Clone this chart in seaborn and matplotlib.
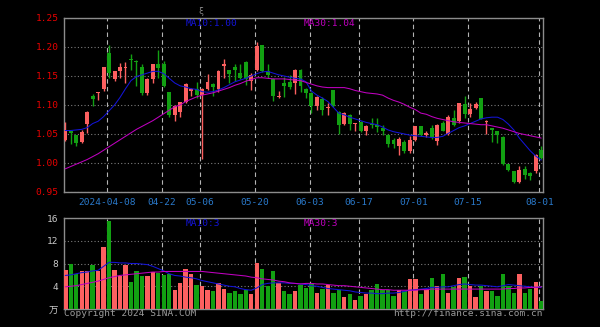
import numpy as np
import pandas as pd
import matplotlib
matplotlib.use("Agg")
import matplotlib.pyplot as plt
import seaborn as sns

# ---------------- data ----------------
open_ = [1.039, 1.055, 1.048, 1.036, 1.068, 1.115, 1.121, 1.128, 1.189, 1.145,
         1.158, 1.163, 1.179, 1.176, 1.165, 1.120, 1.145, 1.170, 1.171, 1.122,
         1.083, 1.088, 1.106, 1.124, 1.128, 1.118, 1.128, 1.136, 1.128, 1.167,
         1.160, 1.165, 1.156, 1.174, 1.141, 1.161, 1.203, 1.158, 1.145, 1.114,
         1.138, 1.139, 1.138, 1.161, 1.127, 1.120, 1.099, 1.111, 1.094, 1.125,
         1.088, 1.067, 1.083, 1.067, 1.070, 1.055, 1.068, 1.066, 1.060, 1.049,
         1.039, 1.030, 1.036, 1.020, 1.040, 1.063, 1.049, 1.060, 1.038, 1.069,
         1.050, 1.078, 1.073, 1.102, 1.084, 1.095, 1.112, 1.071, 1.060, 1.055,
         1.045, 0.998, 0.986, 0.968, 0.990, 0.982, 0.986, 1.023]
close = [1.056, 1.051, 1.034, 1.053, 1.088, 1.111, 1.123, 1.166, 1.155, 1.158,
         1.165, 1.165, 1.177, 1.174, 1.120, 1.145, 1.171, 1.164, 1.133, 1.083,
         1.099, 1.105, 1.137, 1.128, 1.117, 1.128, 1.139, 1.131, 1.159, 1.170,
         1.154, 1.160, 1.146, 1.144, 1.152, 1.201, 1.158, 1.152, 1.115, 1.116,
         1.132, 1.131, 1.161, 1.132, 1.121, 1.098, 1.113, 1.092, 1.096, 1.098,
         1.066, 1.086, 1.067, 1.069, 1.055, 1.063, 1.066, 1.062, 1.055, 1.033,
         1.033, 1.042, 1.020, 1.039, 1.063, 1.048, 1.052, 1.044, 1.066, 1.056,
         1.079, 1.065, 1.103, 1.084, 1.093, 1.101, 1.076, 1.073, 1.057, 1.049,
         0.999, 0.988, 0.968, 0.988, 0.980, 0.977, 1.013, 1.009]
high = [1.071, 1.056, 1.049, 1.057, 1.089, 1.119, 1.123, 1.166, 1.203, 1.158,
        1.172, 1.174, 1.188, 1.177, 1.170, 1.146, 1.171, 1.195, 1.175, 1.123,
        1.100, 1.106, 1.138, 1.130, 1.140, 1.130, 1.153, 1.138, 1.160, 1.180,
        1.160, 1.170, 1.171, 1.175, 1.155, 1.208, 1.204, 1.170, 1.146, 1.124,
        1.149, 1.152, 1.162, 1.162, 1.130, 1.122, 1.115, 1.113, 1.103, 1.126,
        1.089, 1.088, 1.085, 1.069, 1.072, 1.065, 1.078, 1.077, 1.065, 1.050,
        1.043, 1.044, 1.039, 1.046, 1.064, 1.064, 1.055, 1.066, 1.067, 1.073,
        1.083, 1.092, 1.104, 1.115, 1.103, 1.106, 1.112, 1.074, 1.060, 1.055,
        1.046, 0.999, 0.987, 0.994, 0.995, 0.985, 1.015, 1.030]
low = [1.038, 1.033, 1.030, 1.035, 1.051, 1.098, 1.108, 1.124, 1.147, 1.141,
       1.146, 1.138, 1.161, 1.132, 1.118, 1.117, 1.138, 1.147, 1.131, 1.080,
       1.072, 1.080, 1.103, 1.115, 1.112, 1.007, 1.126, 1.115, 1.122, 1.146,
       1.138, 1.141, 1.144, 1.134, 1.125, 1.158, 1.157, 1.147, 1.107, 1.112,
       1.113, 1.128, 1.119, 1.122, 1.112, 1.086, 1.092, 1.083, 1.083, 1.096,
       1.050, 1.066, 1.057, 1.055, 1.053, 1.048, 1.060, 1.053, 1.048, 1.027,
       1.026, 1.014, 1.018, 1.018, 1.038, 1.046, 1.044, 1.042, 1.031, 1.055,
       1.048, 1.063, 1.069, 1.077, 1.080, 1.093, 1.075, 1.050, 1.036, 1.035,
       0.997, 0.986, 0.966, 0.966, 0.972, 0.970, 0.982, 1.007]
ma10 = [1.056, 1.056, 1.057, 1.058, 1.061, 1.068, 1.072, 1.080, 1.090, 1.100,
        1.113, 1.128, 1.142, 1.149, 1.152, 1.155, 1.158, 1.158, 1.154, 1.146,
        1.138, 1.133, 1.131, 1.128, 1.127, 1.123, 1.122, 1.123, 1.126, 1.130,
        1.135, 1.140, 1.143, 1.146, 1.150, 1.154, 1.157, 1.158, 1.155, 1.152,
        1.150, 1.148, 1.146, 1.145, 1.140, 1.124, 1.117, 1.112, 1.106, 1.096,
        1.086, 1.083, 1.079, 1.076, 1.073, 1.070, 1.068, 1.066, 1.062, 1.057,
        1.054, 1.052, 1.050, 1.048, 1.047, 1.046, 1.045, 1.044, 1.044, 1.046,
        1.051, 1.056, 1.061, 1.064, 1.068, 1.072, 1.076, 1.078, 1.079, 1.079,
        1.075, 1.067, 1.057, 1.043, 1.032, 1.021, 1.012, 1.005]
ma30 = [0.990, 0.994, 0.998, 1.002, 1.006, 1.011, 1.016, 1.022, 1.028, 1.034,
        1.040, 1.046, 1.052, 1.058, 1.063, 1.068, 1.073, 1.079, 1.085, 1.091,
        1.097, 1.100, 1.106, 1.110, 1.114, 1.117, 1.119, 1.121, 1.124, 1.127,
        1.130, 1.134, 1.137, 1.141, 1.144, 1.147, 1.147, 1.146, 1.145, 1.145,
        1.145, 1.144, 1.143, 1.142, 1.139, 1.136, 1.133, 1.131, 1.130, 1.130,
        1.130, 1.130, 1.128, 1.125, 1.123, 1.121, 1.120, 1.119, 1.117, 1.112,
        1.108, 1.105, 1.101, 1.096, 1.092, 1.086, 1.084, 1.080, 1.077, 1.075,
        1.073, 1.071, 1.070, 1.069, 1.068, 1.067, 1.066, 1.066, 1.064, 1.062,
        1.060, 1.057, 1.054, 1.051, 1.049, 1.047, 1.045, 1.043]
volume = [6.8, 7.9, 6.2, 6.7, 6.7, 7.7, 6.6, 10.9, 15.5, 6.8,
          5.8, 7.8, 4.8, 6.6, 5.8, 5.8, 6.5, 6.4, 5.9, 6.2,
          3.3, 4.5, 7.1, 6.1, 4.2, 4.1, 3.4, 3.2, 4.6, 3.6,
          2.9, 3.2, 2.6, 3.3, 2.6, 8.1, 7.1, 4.1, 6.6, 4.6,
          3.1, 2.6, 3.2, 4.2, 3.7, 4.4, 2.9, 3.6, 4.2, 2.9,
          3.3, 2.1, 2.6, 1.6, 2.2, 2.6, 3.3, 4.4, 3.4, 3.4,
          2.2, 3.4, 3.2, 5.2, 5.2, 2.6, 3.4, 5.4, 4.0, 6.2,
          2.9, 3.9, 5.4, 5.6, 4.1, 2.1, 4.0, 3.2, 3.1, 2.2,
          6.2, 4.1, 2.9, 6.2, 2.9, 3.5, 4.8, 1.4]
vol_ma10 = [5.9, 6.0, 6.2, 6.4, 6.5, 6.7, 6.8, 7.5, 8.2, 8.2,
            8.1, 8.1, 8.0, 8.0, 7.9, 7.8, 7.5, 7.1, 6.7, 6.2,
            5.9, 5.8, 5.6, 5.5, 5.3, 5.0, 4.8, 4.6, 4.4, 4.2,
            4.0, 3.9, 3.6, 3.4, 3.3, 3.7, 4.3, 4.5, 4.6, 4.6,
            4.6, 4.5, 4.5, 4.4, 4.3, 4.1, 4.0, 3.8, 3.6, 3.5,
            3.4, 3.3, 3.2, 3.0, 2.9, 2.8, 2.8, 2.7, 2.7, 2.8,
            2.8, 2.9, 3.1, 3.3, 3.4, 3.5, 3.6, 3.8, 3.8, 3.9,
            3.9, 4.1, 4.3, 4.4, 4.3, 4.2, 4.2, 4.1, 4.0, 3.9,
            4.1, 4.3, 4.2, 4.1, 4.0, 3.9, 3.8, 3.8]
vol_ma30 = [3.9, 4.0, 4.1, 4.3, 4.5, 4.7, 4.9, 5.2, 5.5, 5.7,
            5.9, 6.0, 6.1, 6.2, 6.3, 6.4, 6.5, 6.5, 6.6, 6.6,
            6.6, 6.6, 6.6, 6.6, 6.6, 6.6, 6.5, 6.4, 6.3, 6.2,
            6.1, 6.0, 5.9, 5.8, 5.6, 5.5, 5.3, 5.2, 5.1, 4.9,
            4.8, 4.6, 4.5, 4.4, 4.5, 4.5, 4.4, 4.4, 4.3, 4.2,
            4.1, 4.1, 4.0, 3.9, 3.8, 3.7, 3.6, 3.5, 3.4, 3.4,
            3.3, 3.3, 3.3, 3.3, 3.3, 3.4, 3.4, 3.5, 3.5, 3.5,
            3.5, 3.5, 3.5, 3.5, 3.5, 3.5, 3.5, 3.5, 3.5, 3.5,
            3.5, 3.6, 3.6, 3.7, 3.7, 3.8, 3.8, 3.9]
tick_idx = [8, 18, 25, 35, 45, 54, 64, 74, 87]
tick_labels = ["2024-04-08", "04-22", "05-06", "05-20", "06-03",
               "06-17", "07-01", "07-15", "08-01"]
price_ticks = [0.95, 1.00, 1.05, 1.10, 1.15, 1.20, 1.25]
vol_ticks = [0, 4, 8, 12, 16]
vol_tick_labels = ["万", "4", "8", "12", "16"]

# ---------------- style ----------------
RED = "#fc6060"
GREEN = "#12a012"
BLUE = "#1414d8"
MAG = "#c000c0"
GRID_H = "#7c7c7c"
GRID_V = "#b4b4b4"
SPINE = "#8c8c8c"

sns.set_style("dark", {"axes.facecolor": "black", "figure.facecolor": "black"})
plt.rcParams["font.family"] = ["DejaVu Sans Mono", "Noto Sans CJK SC"]

W, H = 600, 327
fig = plt.figure(figsize=(W / 100, H / 100), dpi=100, facecolor="black")
ax = fig.add_axes([64 / W, 1 - 192 / H, 479 / W, 174 / H])
axv = fig.add_axes([64 / W, 1 - 309 / H, 479 / W, 91 / H])

n = len(close)
idx = np.arange(n)
o = np.array(open_); c = np.array(close)
up = c >= o
colors = np.where(up, RED, GREEN)

df = pd.DataFrame({"i": idx, "vol": volume, "ma10": ma10, "ma30": ma30,
                   "vma10": vol_ma10, "vma30": vol_ma30,
                   "dir": np.where(up, "up", "down")})

# candles
ax.vlines(idx, low, high, colors=colors, linewidth=1.0, zorder=3)
body_bottom = np.minimum(o, c)
body_h = np.maximum(np.abs(c - o), 0.0015)
ax.bar(idx, body_h, bottom=body_bottom, width=0.72, color=colors,
       linewidth=0, zorder=4)
sns.lineplot(data=df, x="i", y="ma10", ax=ax, color=BLUE, linewidth=0.75, zorder=5)
sns.lineplot(data=df, x="i", y="ma30", ax=ax, color=MAG, linewidth=0.75, zorder=5)

# volume
sns.barplot(data=df, x="i", y="vol", hue="dir", palette={"up": RED, "down": GREEN},
            dodge=False, native_scale=True, width=0.8, legend=False,
            errorbar=None, saturation=1, ax=axv, zorder=3, linewidth=0)
sns.lineplot(data=df, x="i", y="vma10", ax=axv, color=BLUE, linewidth=0.75, zorder=5)
sns.lineplot(data=df, x="i", y="vma30", ax=axv, color=MAG, linewidth=0.75, zorder=5)

xpos = [t - 0.35 for t in tick_idx]
for a in (ax, axv):
    a.set_facecolor("black")
    a.set_xlim(-0.24, 87.33)
    a.set_xlabel(""); a.set_ylabel("")
    for s in a.spines.values():
        s.set_visible(True); s.set_color(SPINE); s.set_linewidth(1.0)
    a.set_xticks(xpos)
    a.xaxis.grid(True, color=GRID_V, linestyle=(0, (4, 3)), linewidth=0.8)
    a.yaxis.grid(True, color=GRID_H, linestyle=(0, (1, 2)), linewidth=0.8)
    a.set_axisbelow(True)
    a.tick_params(length=0)

ax.set_ylim(0.95, 1.25)
ax.set_yticks(price_ticks)
ax.set_yticklabels([f"{v:.2f}" for v in price_ticks])
ax.tick_params(axis="y", colors="#e80000", labelsize=6.8, pad=4)
ax.set_xticklabels(tick_labels)
ax.tick_params(axis="x", colors="#2a7acc", labelsize=6.8, pad=4.5)

axv.set_ylim(0, 16)
axv.set_yticks(vol_ticks)
axv.set_yticklabels(vol_tick_labels)
axv.tick_params(axis="y", colors="#c8c8c8", labelsize=6.8, pad=4)
axv.set_xticklabels([])

def ftext(x, y, s, color, ha="left", size=6.8):
    fig.text(x / W, 1 - y / H, s, color=color, ha=ha, va="center", fontsize=size)

ftext(186, 24, "MA10:1.00", BLUE)
ftext(304, 24, "MA30:1.04", MAG)
ftext(186, 224, "MA10:3", BLUE)
ftext(304, 224, "MA30:3", MAG)
ftext(64, 314, "Copyright 2024 SINA.COM", "#9a9a9a")
ftext(543, 314, "http://finance.sina.com.cn", "#9a9a9a", ha="right")
ftext(198, 11, "ξ", "#8a8a8a", size=6)

fig.savefig("out.png", dpi=100, facecolor="black")
